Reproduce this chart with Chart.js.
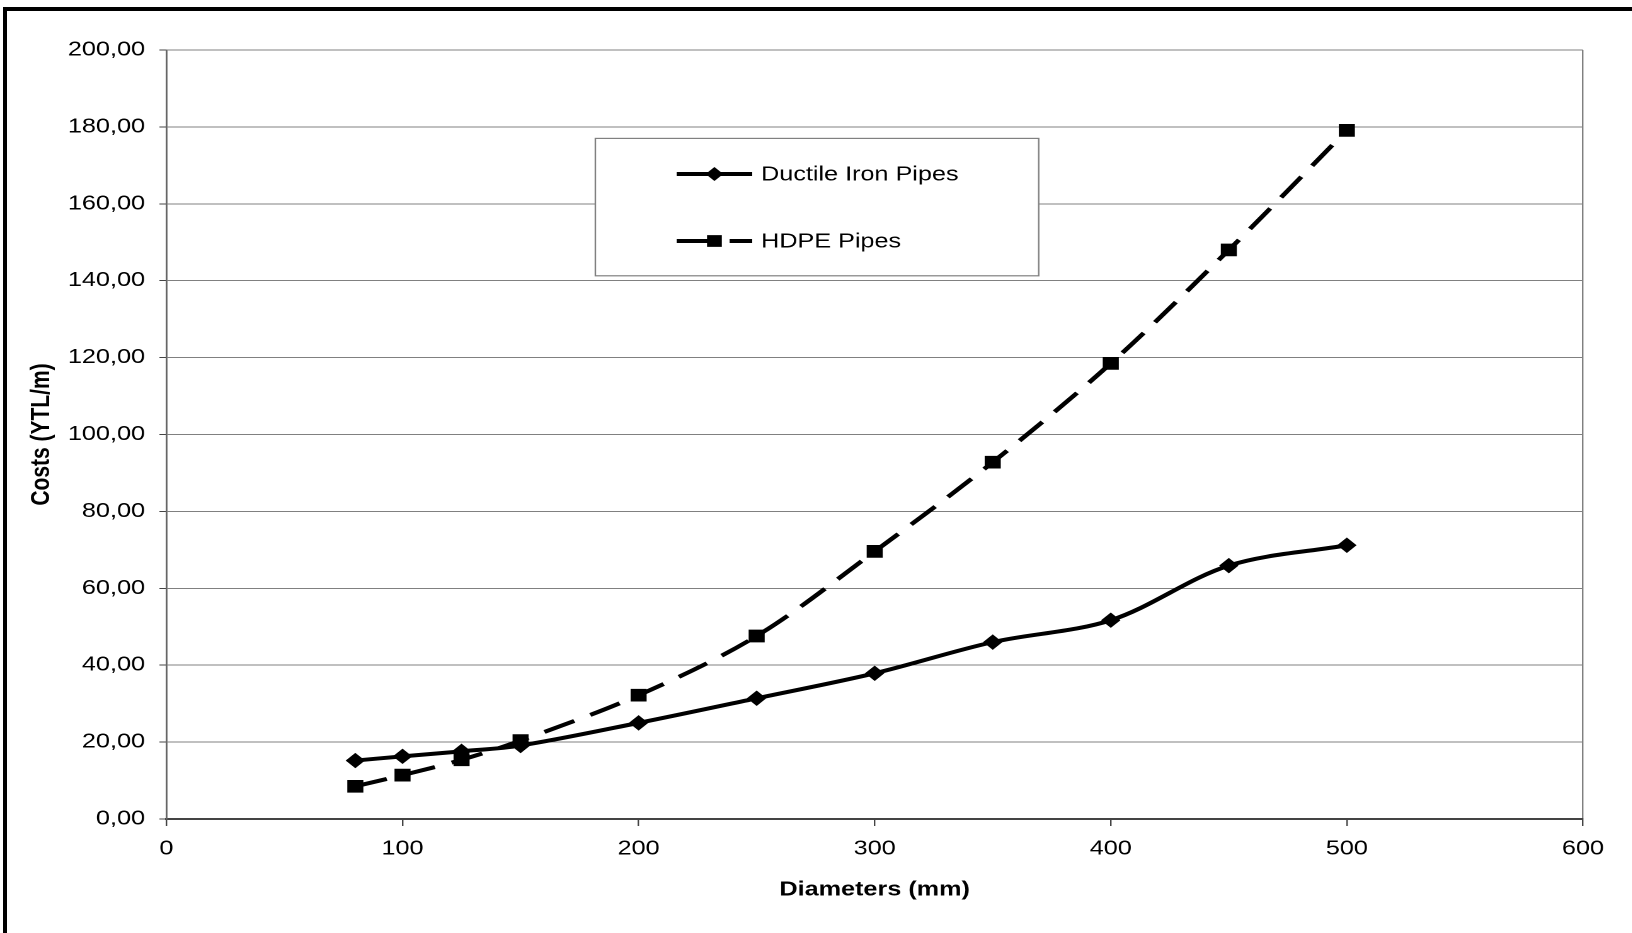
<html>
  <head>
    <title>Pipe costs</title>
    <style>
      body {
        margin: 0;
        background: #fff;
        overflow: hidden;
      }
      /* heavy black frame, cut off on the right and bottom */
      .frame {
        position: absolute;
        left: 3px;
        top: 7px;
        width: 1700px;
        height: 1000px;
        border: 4px solid #000;
      }
      /* the chart is laid out narrow and widened, like the old pasted figure */
      .stretch {
        position: absolute;
        left: 0;
        top: 0;
        width: 1296px;
        height: 933px;
        transform: scaleX(1.26);
        transform-origin: 0 0;
      }
    </style>
    <script src="https://cdn.jsdelivr.net/npm/chart.js"></script>
  </head>

  <body>
    <div class="frame"></div>
    <div class="stretch">
      <canvas id="costChart" width="1296" height="933"></canvas>
    </div>

    <script>
      // pipe diameters (mm) and unit costs (YTL/m)
      const diameters = [80, 100, 125, 150, 200, 250, 300, 350, 400, 450, 500];
      const ductileCost = [15.2, 16.3, 17.6, 19.1, 25.0, 31.4, 37.9, 46.0, 51.7, 65.9, 71.2];
      const hdpeCost = [8.5, 11.4, 15.4, 20.4, 32.2, 47.6, 69.6, 92.8, 118.5, 148.0, 179.1];

      // axis ranges
      const xMax = 600;
      const xStep = 100;
      const yMax = 200;
      const yStep = 20;

      const FONT = '"Liberation Sans", Arial, sans-serif';

      function toPoints(xs, ys) {
        return xs.map((x, i) => ({ x: x, y: ys[i] }));
      }

      // boxed legend sitting inside the plot
      const legendBox = {
        id: "legendBox",
        beforeDatasetsDraw(chart, args, o) {
          const ctx = chart.ctx;
          ctx.save();
          ctx.fillStyle = "#fff";
          ctx.fillRect(o.left, o.top, o.right - o.left, o.bottom - o.top);
          ctx.strokeStyle = "#808080";
          ctx.lineWidth = 1.2;
          ctx.strokeRect(o.left, o.top, o.right - o.left, o.bottom - o.top);

          chart.data.datasets.forEach((ds, i) => {
            const y = o.rows[i];
            const mid = (o.lineStart + o.lineEnd) / 2;
            ctx.strokeStyle = ds.borderColor;
            ctx.lineWidth = ds.borderWidth;
            ctx.setLineDash(ds.borderDash ? o.dash : []);
            ctx.beginPath();
            ctx.moveTo(o.lineStart, y);
            ctx.lineTo(o.lineEnd, y);
            ctx.stroke();
            ctx.setLineDash([]);

            const r = ds.pointRadius;
            ctx.fillStyle = ds.pointBackgroundColor;
            ctx.beginPath();
            if (ds.pointStyle === "rectRot") {
              ctx.moveTo(mid - r, y);
              ctx.lineTo(mid, y - r);
              ctx.lineTo(mid + r, y);
              ctx.lineTo(mid, y + r);
              ctx.closePath();
            } else {
              const h = r * Math.SQRT1_2;
              ctx.rect(mid - h, y - h, 2 * h, 2 * h);
            }
            ctx.fill();

            ctx.fillStyle = "#000";
            ctx.font = "20px " + FONT;
            ctx.textBaseline = "middle";
            ctx.textAlign = "left";
            ctx.fillText(ds.label, o.textX, y + 1);
          });
          ctx.restore();
        }
      };

      new Chart(document.getElementById("costChart"), {
        type: "line",
        data: {
          datasets: [
            {
              label: "Ductile Iron Pipes",
              data: toPoints(diameters, ductileCost),
              borderColor: "#000",
              backgroundColor: "#000",
              borderWidth: 4,
              pointStyle: "rectRot",
              pointRadius: 7,
              pointBackgroundColor: "#000",
              pointBorderColor: "#000",
              pointBorderWidth: 1,
              tension: 0.33,
              fill: false
            },
            {
              label: "HDPE Pipes",
              data: toPoints(diameters, hdpeCost),
              borderColor: "#000",
              backgroundColor: "#000",
              borderWidth: 4,
              borderDash: [26, 14],
              pointStyle: "rect",
              pointRadius: 8.3,
              pointBackgroundColor: "#000",
              pointBorderColor: "#000",
              pointBorderWidth: 1,
              tension: 0.33,
              fill: false
            }
          ]
        },
        options: {
          responsive: false,
          animation: false,
          devicePixelRatio: 2,
          layout: {
            padding: { top: 50, right: 39.7, bottom: 0, left: 0 }
          },
          scales: {
            x: {
              type: "linear",
              min: 0,
              max: xMax,
              ticks: {
                stepSize: xStep,
                color: "#000",
                font: { size: 20, family: FONT },
                padding: 11,
                maxRotation: 0
              },
              grid: {
                drawOnChartArea: true,
                color: (c) => (c.tick && c.tick.value === xMax ? "#808080" : "rgba(0,0,0,0)"),
                tickColor: "#444",
                tickLength: 7,
                lineWidth: 1.2
              },
              border: { color: "#444", width: 2 },
              title: {
                display: true,
                text: "Diameters (mm)",
                color: "#000",
                font: { size: 20, weight: "bold", family: FONT },
                padding: { top: 0, bottom: 31 }
              },
              afterFit: (s) => {
                s.height = 114;
              }
            },
            y: {
              min: 0,
              max: yMax,
              ticks: {
                stepSize: yStep,
                color: "#000",
                font: { size: 20, family: FONT },
                padding: 11.4,
                callback: (v) => v.toFixed(2).replace(".", ",")
              },
              grid: {
                color: "#808080",
                lineWidth: 1,
                tickColor: "#444",
                tickLength: 5.6
              },
              border: { color: "#666", width: 1.4 },
              title: {
                display: true,
                text: "Costs (YTL/m)",
                color: "#000",
                font: { size: 21, weight: "bold", family: FONT },
                padding: { top: 20.5, bottom: 0 }
              },
              afterFit: (s) => {
                s.width = 132.1;
              }
            }
          },
          plugins: {
            legend: { display: false },
            tooltip: { enabled: false },
            legendBox: {
              left: 472.5,
              right: 824.4,
              top: 138.4,
              bottom: 275.8,
              lineStart: 537,
              lineEnd: 597,
              textX: 604,
              rows: [174, 241],
              dash: [30, 12]
            }
          }
        },
        plugins: [legendBox]
      });
    </script>
  </body>
</html>
